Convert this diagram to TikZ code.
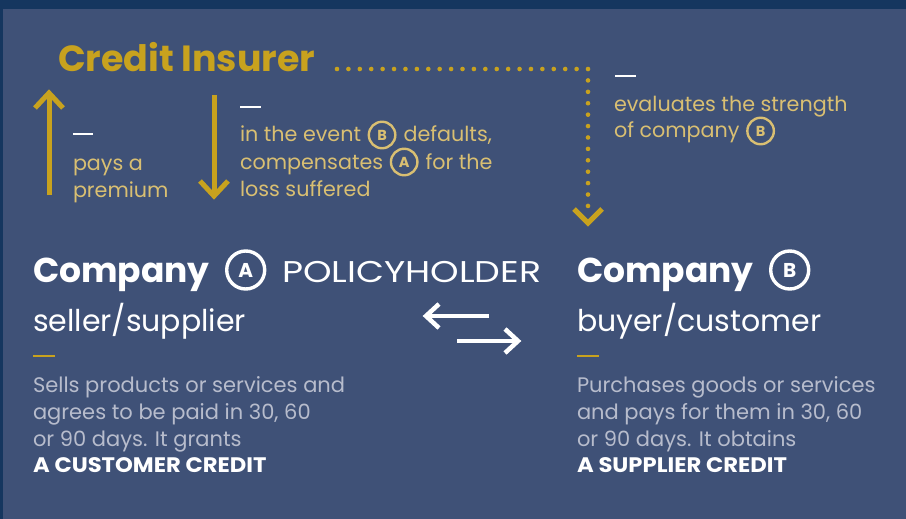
\documentclass[tikz,border=0pt]{standalone}
\usepackage{fontspec}
\setmainfont{Poppins}
\usetikzlibrary{calc}
\definecolor{frameblue}{HTML}{15365F}
\definecolor{panelblue}{HTML}{3F5177}
\definecolor{gold}{HTML}{C8A21E}
\definecolor{lgold}{HTML}{D9BF72}
\definecolor{bodygray}{HTML}{B7BCCC}
\begin{document}
\begin{tikzpicture}[x=1pt,y=-1pt,
  txt/.style={anchor=base west, inner sep=0pt, outer sep=0pt},
  goldtxt/.style={txt, text=lgold, font=\fontsize{20.7}{27}\selectfont},
  bodytxt/.style={txt, text=bodygray, font=\fontsize{21}{27}\selectfont},
  boldtxt/.style={txt, text=white, font=\fontsize{21}{27}\selectfont\bfseries},
  headtxt/.style={txt, text=white, font=\fontsize{34.5}{36}\selectfont\bfseries},
  subtxt/.style={txt, text=white, font=\fontsize{30}{36}\selectfont},
  whitedash/.style={line width=2.2pt, white},
  golddash/.style={line width=2.5pt, gold},
  goldarrow/.style={line width=5pt, gold, line join=miter},
  whitearrow/.style={line width=4.5pt, white, line join=miter},
  smallcirc/.style={circle, draw=lgold, line width=2.4pt, text=lgold, inner sep=0pt, minimum size=26.5pt, font=\fontsize{14.5}{14.5}\selectfont\bfseries},
  bigcirc/.style={circle, draw=white, line width=3.4pt, text=white, inner sep=0pt, minimum size=38pt, font=\fontsize{20}{20}\selectfont\bfseries},
  dotted line/.style={gold, line width=4.6pt, line cap=round, dash pattern=on 0pt off 11.41pt},
]
\useasboundingbox (0,0) rectangle (906,519);
\fill[frameblue] (0,0) rectangle (906,519);
\fill[panelblue] (3,9) rectangle (906,519);

% title
\node[txt, text=gold, font=\fontsize{36.4}{36}\selectfont\bfseries] (title) at (58,72) {Credit Insurer};

% dotted connector
\coordinate (dS) at (337,69);
\coordinate (dC) at (588,69);
\coordinate (dE) at (588,206);
\draw[dotted line] (dS) -- (dC) -- (dE);
\coordinate (dT) at (588,223);
\draw[goldarrow] ($(dT)+(-14,-14)$) -- (dT) -- ($(dT)+(14,-14)$);

% up arrow
\coordinate (uS) at (49,195);
\coordinate (uT) at (49,93);
\draw[goldarrow] (uS) -- ($(uT)+(0,2)$);
\draw[goldarrow] ($(uT)+(-14,15)$) -- (uT) -- ($(uT)+(14,15)$);

% down arrow
\coordinate (dnS) at (214,95);
\coordinate (dnT) at (214,196);
\draw[goldarrow] (dnS) -- ($(dnT)+(0,-2)$);
\draw[goldarrow] ($(dnT)+(-14,-15)$) -- (dnT) -- ($(dnT)+(14,-15)$);

% left gold text
\coordinate (w1a) at (73,134); \coordinate (w1b) at (93,134);
\draw[whitedash] (w1a) -- (w1b);
\node[goldtxt] (pay1) at (73,170) {pays a};
\node[goldtxt] (pay2) at (73,197) {premium};

% middle gold text
\coordinate (w2a) at (240,107); \coordinate (w2b) at (261,107);
\draw[whitedash] (w2a) -- (w2b);
\node[goldtxt] (ev1) at (240,142) {in the event};
\node[smallcirc] (evB) at ($(ev1.base east)+(21,-7)$) {B};
\node[goldtxt] (ev2) at ($(evB.east |- ev1.base)+(7,0)$) {defaults,};
\node[goldtxt] (cp1) at (240,169) {compensates};
\node[smallcirc] (cpA) at ($(cp1.base east)+(21,-7)$) {A};
\node[goldtxt] (cp2) at ($(cpA.east |- cp1.base)+(7,0)$) {for the};
\node[goldtxt] (ls) at (240,196) {loss suffered};

% right gold text
\coordinate (w3a) at (615,76); \coordinate (w3b) at (636,76);
\draw[whitedash] (w3a) -- (w3b);
\node[goldtxt] (evl) at (614,111) {evaluates the strength};
\node[goldtxt] (ofc) at (614,138) {of company};
\node[smallcirc] (ofB) at ($(ofc.base east)+(21,-7)$) {B};

% company A
\node[headtxt] (compA) at (33,282) {Company};
\node[bigcirc] (cA) at ($(compA.base east)+(36,-12)$) {A};
\node[subtxt] (pol) at (282,282) {\scalebox{1.21}[1]{POLICYHOLDER}};
\node[subtxt] (sell) at (33,331) {seller/supplier};
\coordinate (g1a) at (33,356); \coordinate (g1b) at (55,356);
\draw[golddash] (g1a) -- (g1b);
\node[bodytxt] (a1) at (33,392) {Sells products or services and};
\node[bodytxt] (a2) at (33,419) {agrees to be paid in 30, 60};
\node[bodytxt] (a3) at (33,446) {or 90 days. It grants};
\node[boldtxt] (a4) at (33,472) {\scalebox{1.08}[1]{A CUSTOMER CREDIT}};

% company B
\node[headtxt] (compB) at (577,282) {Company};
\node[bigcirc] (cB) at ($(compB.base east)+(36,-12)$) {B};
\node[subtxt] (buy) at (577,331) {buyer/customer};
\coordinate (g2a) at (577,356); \coordinate (g2b) at (599,356);
\draw[golddash] (g2a) -- (g2b);
\node[bodytxt] (b1) at (577,392) {Purchases goods or services};
\node[bodytxt] (b2) at (577,419) {and pays for them in 30, 60};
\node[bodytxt] (b3) at (577,446) {or 90 days. It obtains};
\node[boldtxt] (b4) at (577,472) {\scalebox{1.08}[1]{A SUPPLIER CREDIT}};

% exchange arrows
\coordinate (lS) at (489,316); \coordinate (lT) at (426,316);
\draw[whitearrow] (lS) -- ($(lT)+(2,0)$);
\draw[whitearrow] ($(lT)+(13,-12)$) -- (lT) -- ($(lT)+(13,12)$);
\coordinate (rS) at (457,341); \coordinate (rT) at (518,341);
\draw[whitearrow] (rS) -- ($(rT)+(-2,0)$);
\draw[whitearrow] ($(rT)+(-13,-12)$) -- (rT) -- ($(rT)+(-13,12)$);
\end{tikzpicture}
\end{document}
